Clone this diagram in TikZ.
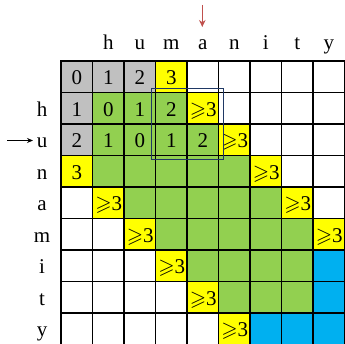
\documentclass[tikz,border=0pt]{standalone}
\usepackage{amssymb}
\usepackage{fontspec}
\setmainfont{Liberation Serif}
\usetikzlibrary{arrows.meta}
\definecolor{cgray}{RGB}{192,192,192}
\definecolor{cgreen}{RGB}{146,208,80}
\definecolor{cyellow}{RGB}{255,255,0}
\definecolor{cblue}{RGB}{0,176,240}
\definecolor{cnavy}{RGB}{31,56,100}
\definecolor{cred}{RGB}{192,80,77}
\tikzset{
  cell/.style={draw=black,line width=1.1pt,minimum size=31.5pt,inner sep=0pt,outer sep=0pt},
  val/.style={anchor=base,inner sep=0pt,font=\fontsize{21}{21}\selectfont},
  lab/.style={anchor=base,inner sep=0pt,font=\fontsize{21}{21}\selectfont},
}
\newcommand{\geqthree}{$\geqslant$3}
\begin{document}
\begin{tikzpicture}[x=1pt,y=-1pt]
\useasboundingbox (0,0) rectangle (345,344);
\fill[white] (0,0) rectangle (345,344);
% cells
\foreach \c/\r in {0/0,1/0,2/0,0/1,0/2}
  \node[cell,fill=cgray] (cell-\c-\r) at ({61+31.5*(\c+0.5)},{61+31.5*(\r+0.5)}) {};
\foreach \c/\r in {3/0,4/1,5/2,0/3,6/3,1/4,7/4,2/5,8/5,3/6,4/7,5/8}
  \node[cell,fill=cyellow] (cell-\c-\r) at ({61+31.5*(\c+0.5)},{61+31.5*(\r+0.5)}) {};
\foreach \c/\r in {1/1,2/1,3/1,1/2,2/2,3/2,4/2,1/3,2/3,3/3,4/3,5/3,2/4,3/4,4/4,5/4,6/4,3/5,4/5,5/5,6/5,7/5,4/6,5/6,6/6,7/6,5/7,6/7,7/7}
  \node[cell,fill=cgreen] (cell-\c-\r) at ({61+31.5*(\c+0.5)},{61+31.5*(\r+0.5)}) {};
\foreach \c/\r in {8/6,8/7,6/8,7/8,8/8}
  \node[cell,fill=cblue] (cell-\c-\r) at ({61+31.5*(\c+0.5)},{61+31.5*(\r+0.5)}) {};
\foreach \c/\r in {4/0,5/0,6/0,7/0,8/0,5/1,6/1,7/1,8/1,6/2,7/2,8/2,7/3,8/3,0/4,8/4,0/5,1/5,0/6,1/6,2/6,0/7,1/7,2/7,3/7,0/8,1/8,2/8,3/8,4/8}
  \node[cell,fill=white] (cell-\c-\r) at ({61+31.5*(\c+0.5)},{61+31.5*(\r+0.5)}) {};
% values
\foreach \c/\r/\t in {0/0/0,1/0/1,2/0/2,3/0/3,0/1/1,1/1/0,2/1/1,3/1/2,0/2/2,1/2/1,2/2/0,3/2/1,4/2/2,0/3/3}
  \node[val] (v-\c-\r) at ({61+31.5*(\c+0.5)},{61+31.5*(\r+0.5)+8}) {\t};
\foreach \c/\r in {4/1,5/2,6/3,1/4,7/4,2/5,8/5,3/6,4/7,5/8}
  \node[val] (v-\c-\r) at ({61+31.5*(\c+0.5)+0.5},{61+31.5*(\r+0.5)+8}) {\geqthree};
% column labels
\foreach \c/\t in {1/h,2/u,3/m,4/a,5/n,6/i,7/t,8/y}
  \node[lab] (col-\c) at ({61+31.5*(\c+0.5)},50) {\t};
% row labels
\foreach \r/\t in {1/h,2/u,3/n,4/a,5/m,6/i,7/t,8/y}
  \node[lab] (row-\r) at (42,{61+31.5*(\r+0.5)+8}) {\t};
% window
\node[draw=cnavy,line width=1pt,minimum width=71.6pt,minimum height=71pt,inner sep=0pt] (win) at (187.5,124.5) {};
% arrows
\coordinate (ra1) at (202.3,5);
\coordinate (ra2) at (202.3,27);
\draw[cred,line width=1.2pt,-{Stealth[length=7pt,width=6.5pt]}] (ra1) -- (ra2);
\coordinate (la1) at (7,140.5);
\coordinate (la2) at (33,140.5);
\draw[black,line width=1pt,-{Stealth[length=6pt,width=5pt]}] (la1) -- (la2);
\end{tikzpicture}
\end{document}
